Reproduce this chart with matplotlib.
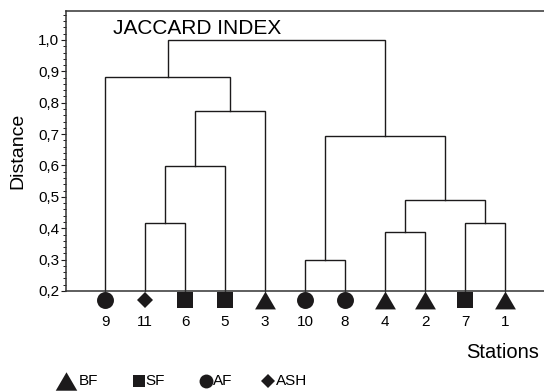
import matplotlib
matplotlib.use('Agg')
import matplotlib.pyplot as plt
from matplotlib.lines import Line2D

plt.rcParams['font.family'] = ['Liberation Sans', 'DejaVu Sans']

# stations in dendrogram order and their forest type
leaf_labels = ['9', '11', '6', '5', '3', '10', '8', '4', '2', '7', '1']
leaf_groups = ['AF', 'ASH', 'SF', 'SF', 'BF', 'AF', 'AF', 'BF', 'BF', 'SF', 'BF']

# merges: (child a, child b, distance); ids 0..10 are leaves, 11+ are clusters
merge_a = [1, 11, 12, 0, 5, 7, 9, 16, 15, 14]
merge_b = [2, 3, 4, 13, 6, 8, 10, 17, 18, 19]
merge_h = [0.417, 0.599, 0.774, 0.882, 0.299, 0.388, 0.417, 0.490, 0.695, 1.001]

legend_groups = ['BF', 'SF', 'AF', 'ASH']

tri = [(0, 1), (-1.167, -1), (1.167, -1), (0, 1)]
markers = {'BF': tri, 'SF': 's', 'AF': 'o', 'ASH': 'D'}
msize = {'BF': 15, 'SF': 11.5, 'AF': 12.2, 'ASH': 8.6}
lsize = {'BF': 15.5, 'SF': 8.8, 'AF': 10, 'ASH': 7.4}
ink = '#1c1a1b'

fig = plt.figure(figsize=(5.44, 3.91), dpi=100)
ax = fig.add_axes([66 / 544, 1 - 291 / 391, 478 / 544, 280.5 / 391])

ymin = 0.2
xs = {i: float(i) for i in range(len(leaf_labels))}
hs = {i: ymin for i in range(len(leaf_labels))}
for k, (a, b, h) in enumerate(zip(merge_a, merge_b, merge_h)):
    cid = len(leaf_labels) + k
    ax.plot([xs[a], xs[a], xs[b], xs[b]], [hs[a], h, h, hs[b]],
            color=ink, lw=1.0, solid_joinstyle='miter', clip_on=False)
    xs[cid] = (xs[a] + xs[b]) / 2
    hs[cid] = h

# station symbols under the axis
for i, g in enumerate(leaf_groups):
    ax.plot(i, -0.032, marker=markers[g], ms=msize[g], color=ink, mew=0,
            transform=ax.get_xaxis_transform(), clip_on=False)

ax.set_xlim(-0.975, 10.975)
ax.set_ylim(0.2, 1.094)
ax.set_xticks(range(len(leaf_labels)))
ax.set_xticklabels(leaf_labels, fontsize=11)
ax.tick_params(axis='x', length=0, pad=17)

yt = [0.2, 0.3, 0.4, 0.5, 0.6, 0.7, 0.8, 0.9, 1.0]
ax.set_yticks(yt)
ax.set_yticklabels([f'{v:.1f}'.replace('.', ',') for v in yt], fontsize=11)
ax.set_yticks([0.2 + 0.02 * i for i in range(45) if i % 5 != 0], minor=True)
ax.tick_params(axis='y', length=3.5, width=0.8, pad=1.5, color=ink)
ax.tick_params(axis='y', which='minor', length=2, width=0.7, color=ink)

for s in ['left', 'top', 'bottom']:
    ax.spines[s].set_linewidth(1.1)
    ax.spines[s].set_color('#333333')
ax.spines['right'].set_visible(False)

ax.set_ylabel('Distance', fontsize=14, labelpad=8)
ax.set_xlabel('Stations', fontsize=14.5, ha='right')
ax.xaxis.set_label_coords(473 / 478, -0.185)

ax.text(0.2, 1.038, 'JACCARD INDEX', fontsize=15, ha='left', va='center')

# legend row
leg_x = [66, 139, 206, 268]
txt_x = [79, 145, 213, 276]
for g, mx, tx in zip(legend_groups, leg_x, txt_x):
    fig.add_artist(Line2D([mx / 544], [1 - 381 / 391], marker=markers[g],
                          ms=lsize[g], color=ink, mew=0,
                          transform=fig.transFigure))
    fig.text(tx / 544, 1 - 381 / 391, g, fontsize=11, ha='left', va='center')

fig.savefig('out.png', dpi=100)
